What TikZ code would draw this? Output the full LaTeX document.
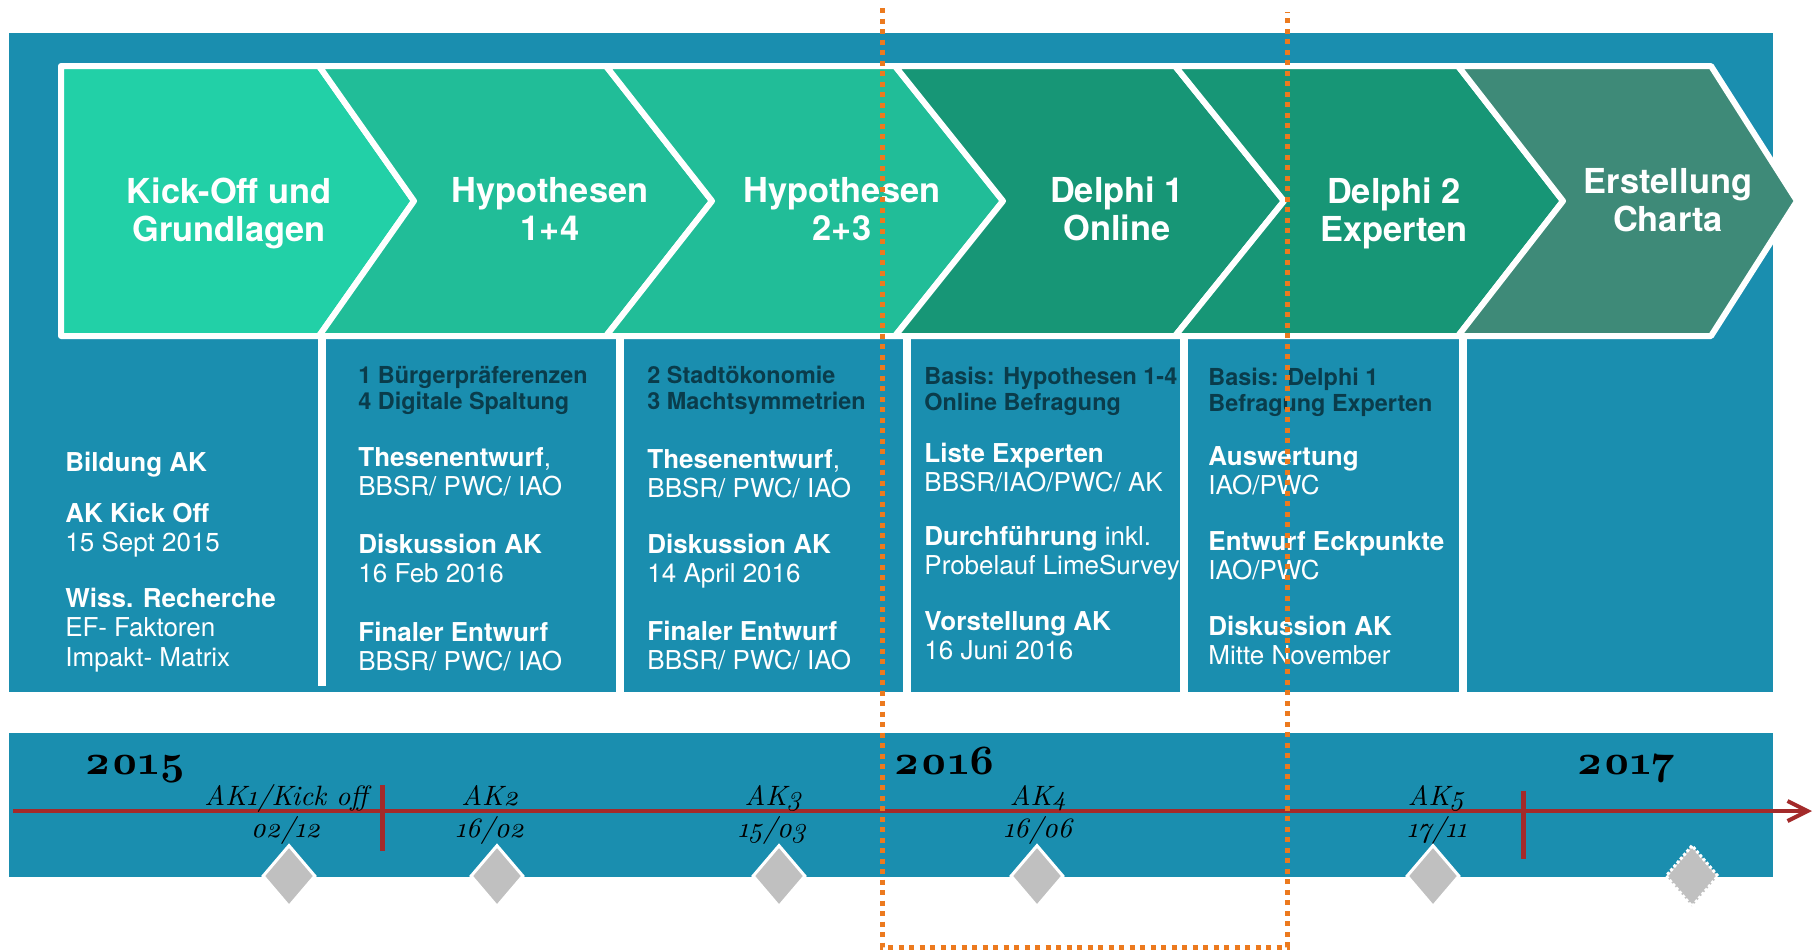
\documentclass[tikz,border=0pt]{standalone}
\usepackage{fontspec}
\usetikzlibrary{positioning}
\usetikzlibrary{arrows.meta}
\usetikzlibrary{shapes.geometric}
\newfontfamily\hvfont{TeX Gyre Heros}
\newfontfamily\tlfont{lmroman10}[Extension=.otf, UprightFont=*-regular, BoldFont=*-bold, ItalicFont=*-italic, BoldItalicFont=*-bolditalic, Numbers=OldStyle]
\definecolor{bandblue}{HTML}{1A8EAF}
\definecolor{stepone}{HTML}{22D0A7}
\definecolor{steptwo}{HTML}{21BD98}
\definecolor{stepthree}{HTML}{179676}
\definecolor{stepfour}{HTML}{3E8A78}
\definecolor{headdark}{HTML}{0A3C4B}
\definecolor{tlred}{HTML}{A32A2A}
\definecolor{focusorange}{HTML}{EC7A1E}
\definecolor{msgrey}{HTML}{C0C0C0}
\tikzset{
        % Background bands
        band/.style={fill=bandblue},
        % Chevron steps
        chevron/.style={draw=white, line width=3pt, line join=round},
        chevtext/.style={align=center, inner sep=0pt, text=white, font=\hvfont\bfseries\fontsize{17.2}{19}\selectfont},
        % Column texts
        colhead/.style={anchor=north west, align=left, inner sep=0pt, text=headdark, font=\hvfont\bfseries\fontsize{11.7}{13}\selectfont, execute at begin node={\rule{0pt}{11pt}}},
        colbody/.style={anchor=north west, align=left, inner sep=0pt, text=white, font=\hvfont\fontsize{13}{14.6}\selectfont, execute at begin node={\rule{0pt}{12pt}}},
        colsep/.style={draw=white, line width=4pt},
        % Timeline
        yearlabel/.style={anchor=base, inner sep=0pt, font=\tlfont\bfseries\fontsize{21}{24}\selectfont},
        aklabel/.style={anchor=base, inner sep=0pt, font=\tlfont\itshape\fontsize{14}{16}\selectfont},
        tlarrow/.style={draw=tlred, line width=2pt, -{Straight Barb[length=10pt, width=10pt]}},
        tltick/.style={draw=tlred, line width=2.5pt},
        milestone/.style={diamond, fill=msgrey, draw=white, line width=1.5pt, inner sep=0pt, minimum width=26.5pt, minimum height=31pt},
        % Highlighted period
        focus/.style={draw=focusorange, line width=2.5pt, dash pattern=on 2.5pt off 2.75pt}
}
\begin{document}
\begin{tikzpicture}[x=0.5pt, y=-0.5pt]
    \path[use as bounding box, fill=white] (0,0) rectangle (1815,950);
    % bands
    \fill[band] (9,33) rectangle (1773,692);
    \fill[band] (9,733) rectangle (1773,877);
    \draw[colsep] (322,336) -- (322,686);
    \draw[colsep] (620,336) -- (620,692);
    \draw[colsep] (907,336) -- (907,692);
    \draw[colsep] (1184,336) -- (1184,692);
    \draw[colsep] (1463,336) -- (1463,692);

    % chevrons
    \draw[chevron, fill=stepone] (61,66) -- (319,66) -- (414,201) -- (319,336) -- (61,336) -- cycle;
    \draw[chevron, fill=steptwo] (319,66) -- (606,66) -- (712,201) -- (606,336) -- (319,336) -- (414,201) -- cycle;
    \draw[chevron, fill=steptwo] (606,66) -- (895,66) -- (1003,201) -- (895,336) -- (606,336) -- (712,201) -- cycle;
    \draw[chevron, fill=stepthree] (895,66) -- (1175,66) -- (1284,201) -- (1175,336) -- (895,336) -- (1003,201) -- cycle;
    \draw[chevron, fill=stepthree] (1175,66) -- (1458,66) -- (1563,201) -- (1458,336) -- (1175,336) -- (1284,201) -- cycle;
    \draw[chevron, fill=stepfour] (1458,66) -- (1711,66) -- (1797,201) -- (1711,336) -- (1458,336) -- (1563,201) -- cycle;
    \node[chevtext] (s1) at (229,213) {Kick-Off und\\Grundlagen};
    \node[chevtext] (s2) at (550,209) {Hypothesen\\1+4};
    \node[chevtext] (s3) at (842,209) {Hypothesen\\2+3};
    \node[chevtext] (s4) at (1117,209) {Delphi 1\\Online};
    \node[chevtext] (s5) at (1394,213) {Delphi 2\\Experten};
    \node[chevtext] (s6) at (1668,200) {Erstellung\\Charta};

    % columns
    \node[colbody] (c1a) at (65,447) {\textbf{Bildung AK}};
    \node[colbody] (c1b) at (65,503) {\textbf{AK Kick Off}\\15 Sept 2015};
    \node[colbody] (c1c) at (65,588) {\textbf{Wiss. Recherche}\\EF- Faktoren\\Impakt- Matrix};

    \node[colhead] (c2h) at (358,366) {1 Bürgerpräferenzen\\4 Digitale Spaltung};
    \node[colbody] (c2a) at (358,447) {\textbf{Thesenentwurf},\\BBSR/ PWC/ IAO};
    \node[colbody] (c2b) at (358,534) {\textbf{Diskussion AK}\\16 Feb 2016};
    \node[colbody] (c2c) at (358,622) {\textbf{Finaler Entwurf}\\BBSR/ PWC/ IAO};

    \node[colhead] (c3h) at (647,366) {2 Stadtökonomie\\3 Machtsymmetrien};
    \node[colbody] (c3a) at (647,449) {\textbf{Thesenentwurf},\\BBSR/ PWC/ IAO};
    \node[colbody] (c3b) at (647,534) {\textbf{Diskussion AK}\\14 April 2016};
    \node[colbody] (c3c) at (647,621) {\textbf{Finaler Entwurf}\\BBSR/ PWC/ IAO};

    \node[colhead] (c4h) at (924,367) {Basis: Hypothesen 1-4\\Online Befragung};
    \node[colbody] (c4a) at (924,443) {\textbf{Liste Experten}\\BBSR/IAO/PWC/ AK};
    \node[colbody] (c4b) at (924,526) {\textbf{Durchführung} inkl.\\Probelauf LimeSurvey};
    \node[colbody] (c4c) at (924,611) {\textbf{Vorstellung AK}\\16 Juni 2016};

    \node[colhead] (c5h) at (1208,368) {Basis: Delphi 1\\Befragung Experten};
    \node[colbody] (c5a) at (1208,446) {\textbf{Auswertung}\\IAO/PWC};
    \node[colbody] (c5b) at (1208,531) {\textbf{Entwurf Eckpunkte}\\IAO/PWC};
    \node[colbody] (c5c) at (1208,616) {\textbf{Diskussion AK}\\Mitte November};

    % timeline
    \coordinate (tstart) at (13,811);
    \coordinate (tend) at (1812,811);
    \draw[tlarrow] (tstart) -- (tend);
    \draw[tltick] (382,785) -- (382,851);
    \draw[tltick] (1523,791) -- (1523,859);
    \node[yearlabel] (y15) at (135,774) {2015};
    \node[yearlabel] (y16) at (945,774) {2016};
    \node[yearlabel] (y17) at (1626,774) {2017};
    \node[aklabel] (ak1) at (286,805) {AK1/Kick off};
    \node[aklabel] (ak2) at (490,805) {AK2};
    \node[aklabel] (ak3) at (773,805) {AK3};
    \node[aklabel] (ak4) at (1038,805) {AK4};
    \node[aklabel] (ak5) at (1436,805) {AK5};
    \node[aklabel] (d1) at (286,837) {02/12};
    \node[aklabel] (d2) at (490,837) {16/02};
    \node[aklabel] (d3) at (772,837) {15/03};
    \node[aklabel] (d4) at (1038,837) {16/06};
    \node[aklabel] (d5) at (1437,837) {17/11};
    \node[milestone] (m1) at (289,876) {};
    \node[milestone] (m2) at (497,876) {};
    \node[milestone] (m3) at (779,876) {};
    \node[milestone] (m4) at (1037,876) {};
    \node[milestone] (m5) at (1433,876) {};
    \node[milestone, densely dotted] (m6) at (1692,876) {};

    % Delphi period
    \draw[focus] (882,8) -- (882,947) -- (1287,947) -- (1287,12);
\end{tikzpicture}
\end{document}
